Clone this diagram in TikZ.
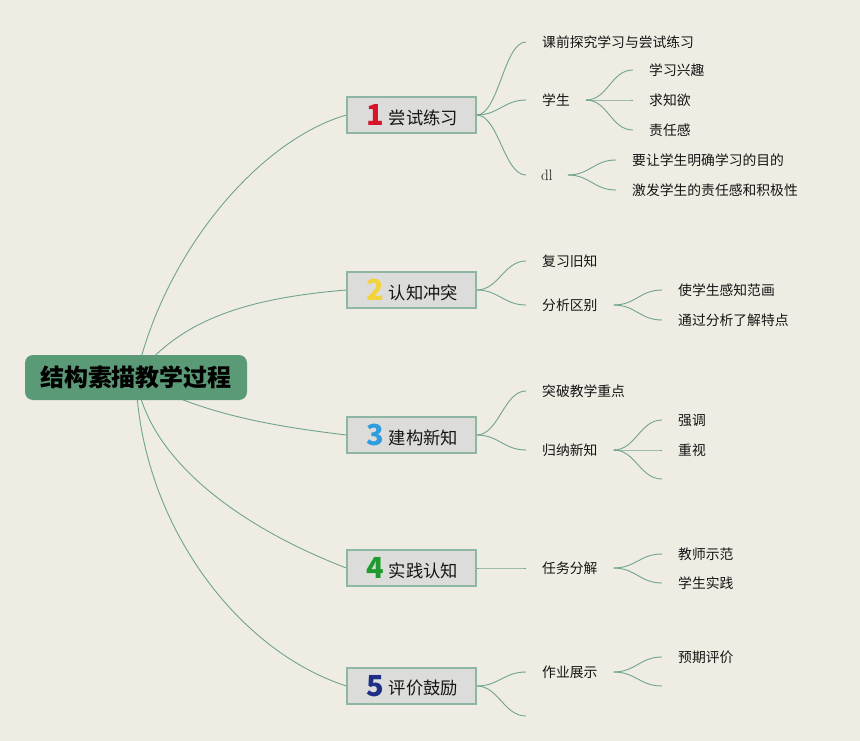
\documentclass[tikz,border=0pt]{standalone}
\usepackage{fontspec}
\newfontfamily\cjk{Noto Sans CJK SC}
\definecolor{bgc}{HTML}{EFECE3}
\definecolor{linec}{HTML}{6FA58C}
\definecolor{rootc}{HTML}{5B9A76}
\definecolor{boxfill}{HTML}{DCDCDA}
\definecolor{boxline}{HTML}{8DB7A2}
\definecolor{txt}{HTML}{151515}
\definecolor{d1}{HTML}{D9132B}
\definecolor{d2}{HTML}{F2D43A}
\definecolor{d3}{HTML}{2D9DE0}
\definecolor{d4}{HTML}{1E9A2E}
\definecolor{d5}{HTML}{1E2D86}
\newcommand\brc[3]{\makebox[20pt]{\raisebox{-1.5pt}{\cjk\bfseries\fontsize{29}{29}\selectfont\color{#1}#2}}\hspace{4pt}#3}
\pgfdeclarelayer{bglayer}
\pgfdeclarelayer{lines}
\pgfsetlayers{bglayer,lines,main}
\begin{document}
\begin{tikzpicture}[x=1pt,y=-1pt,
  rootbox/.style={fill=rootc, rounded corners=8pt, minimum width=222pt, minimum height=45pt, inner sep=0pt, font=\cjk\bfseries\fontsize{24}{24}\selectfont, text=black},
  brbox/.style={draw=boxline, line width=1.2pt, fill=boxfill, minimum width=129pt, minimum height=36pt, inner sep=0pt, font=\cjk\fontsize{17.3}{18}\selectfont, text=txt},
  lvtwo/.style={anchor=west, inner xsep=16pt, inner ysep=1pt, font=\cjk\fontsize{13.8}{14}\selectfont, text=txt},
  conn/.style={draw=linec, line width=0.9pt},
  scurve/.style={conn, to path={.. controls +(22,0) and +(-22,0) .. (\tikztotarget)}}
]
\begin{pgfonlayer}{bglayer}
\fill[bgc] (0,0) rectangle (860,741);
\end{pgfonlayer}
\useasboundingbox (0,0) rectangle (860,741);

% root
\node[rootbox] (root) at (136,377.5) {结构素描教学过程};

% branches
\node[brbox] (b1) at (411.5,115) {\brc{d1}{1}{尝试练习}};
\node[brbox] (b2) at (411.5,290) {\brc{d2}{2}{认知冲突}};
\node[brbox] (b3) at (411.5,435) {\brc{d3}{3}{建构新知}};
\node[brbox] (b4) at (411.5,568) {\brc{d4}{4}{实践认知}};
\node[brbox] (b5) at (411.5,686) {\brc{d5}{5}{评价鼓励}};

% level two
\node[lvtwo] (a11) at (526,42) {课前探究学习与尝试练习};
\node[lvtwo] (a12) at (526,100) {学生};
\node[lvtwo, font=\fontsize{15}{15}\selectfont, inner xsep=15pt] (a13) at (526,175) {dl};
\node[lvtwo] (a21) at (526,261) {复习旧知};
\node[lvtwo] (a22) at (526,305) {分析区别};
\node[lvtwo] (a31) at (526,391) {突破教学重点};
\node[lvtwo] (a32) at (526,450) {归纳新知};
\node[lvtwo] (a41) at (526,568) {任务分解};
\node[lvtwo] (a51) at (526,672) {作业展示};
\coordinate (a52) at (526,716);

% level three
\node[lvtwo] (c121) at (633,70) {学习兴趣};
\node[lvtwo] (c122) at (633,100) {求知欲};
\node[lvtwo] (c123) at (633,130) {责任感};
\node[lvtwo] (c131) at (616,160) {要让学生明确学习的目的};
\node[lvtwo] (c132) at (616,190) {激发学生的责任感和积极性};
\node[lvtwo] (c221) at (662,290) {使学生感知范画};
\node[lvtwo] (c222) at (662,320) {通过分析了解特点};
\node[lvtwo] (c321) at (662,420) {强调};
\node[lvtwo] (c322) at (662,450) {重视};
\coordinate (c323) at (662,479);
\node[lvtwo] (c411) at (662,554) {教师示范};
\node[lvtwo] (c412) at (662,583) {学生实践};
\node[lvtwo] (c511) at (662,657) {预期评价};
\coordinate (c512) at (662,686);

\begin{pgfonlayer}{lines}
% root connectors
\draw[conn] (root.center) .. controls (165,250) and (260,140) .. (b1.west);
\draw[conn] (root.center) .. controls (179,319) and (249,298) .. (b2.west);
\draw[conn] (root.center) .. controls (200,415) and (280,427) .. (b3.west);
\draw[conn] (root.center) .. controls (150,470) and (260,535) .. (b4.west);
\draw[conn] (root.center) .. controls (140,520) and (235,650) .. (b5.west);
% branch to level two
\draw[scurve] (b1.east) to (a11.west);
\draw[scurve] (b1.east) to (a12.west);
\draw[scurve] (b1.east) to (a13.west);
\draw[scurve] (b2.east) to (a21.west);
\draw[scurve] (b2.east) to (a22.west);
\draw[scurve] (b3.east) to (a31.west);
\draw[scurve] (b3.east) to (a32.west);
\draw[scurve] (b4.east) to (a41.west);
\draw[scurve] (b5.east) to (a51.west);
\draw[scurve] (b5.east) to (a52);
% level two to level three
\draw[scurve] (a12.east) to (c121.west);
\draw[scurve] (a12.east) to (c122.west);
\draw[scurve] (a12.east) to (c123.west);
\draw[scurve] (a13.east) to (c131.west);
\draw[scurve] (a13.east) to (c132.west);
\draw[scurve] (a22.east) to (c221.west);
\draw[scurve] (a22.east) to (c222.west);
\draw[scurve] (a32.east) to (c321.west);
\draw[scurve] (a32.east) to (c322.west);
\draw[scurve] (a32.east) to (c323);
\draw[scurve] (a41.east) to (c411.west);
\draw[scurve] (a41.east) to (c412.west);
\draw[scurve] (a51.east) to (c511.west);
\draw[scurve] (a51.east) to (c512);
\end{pgfonlayer}
\end{tikzpicture}
\end{document}
